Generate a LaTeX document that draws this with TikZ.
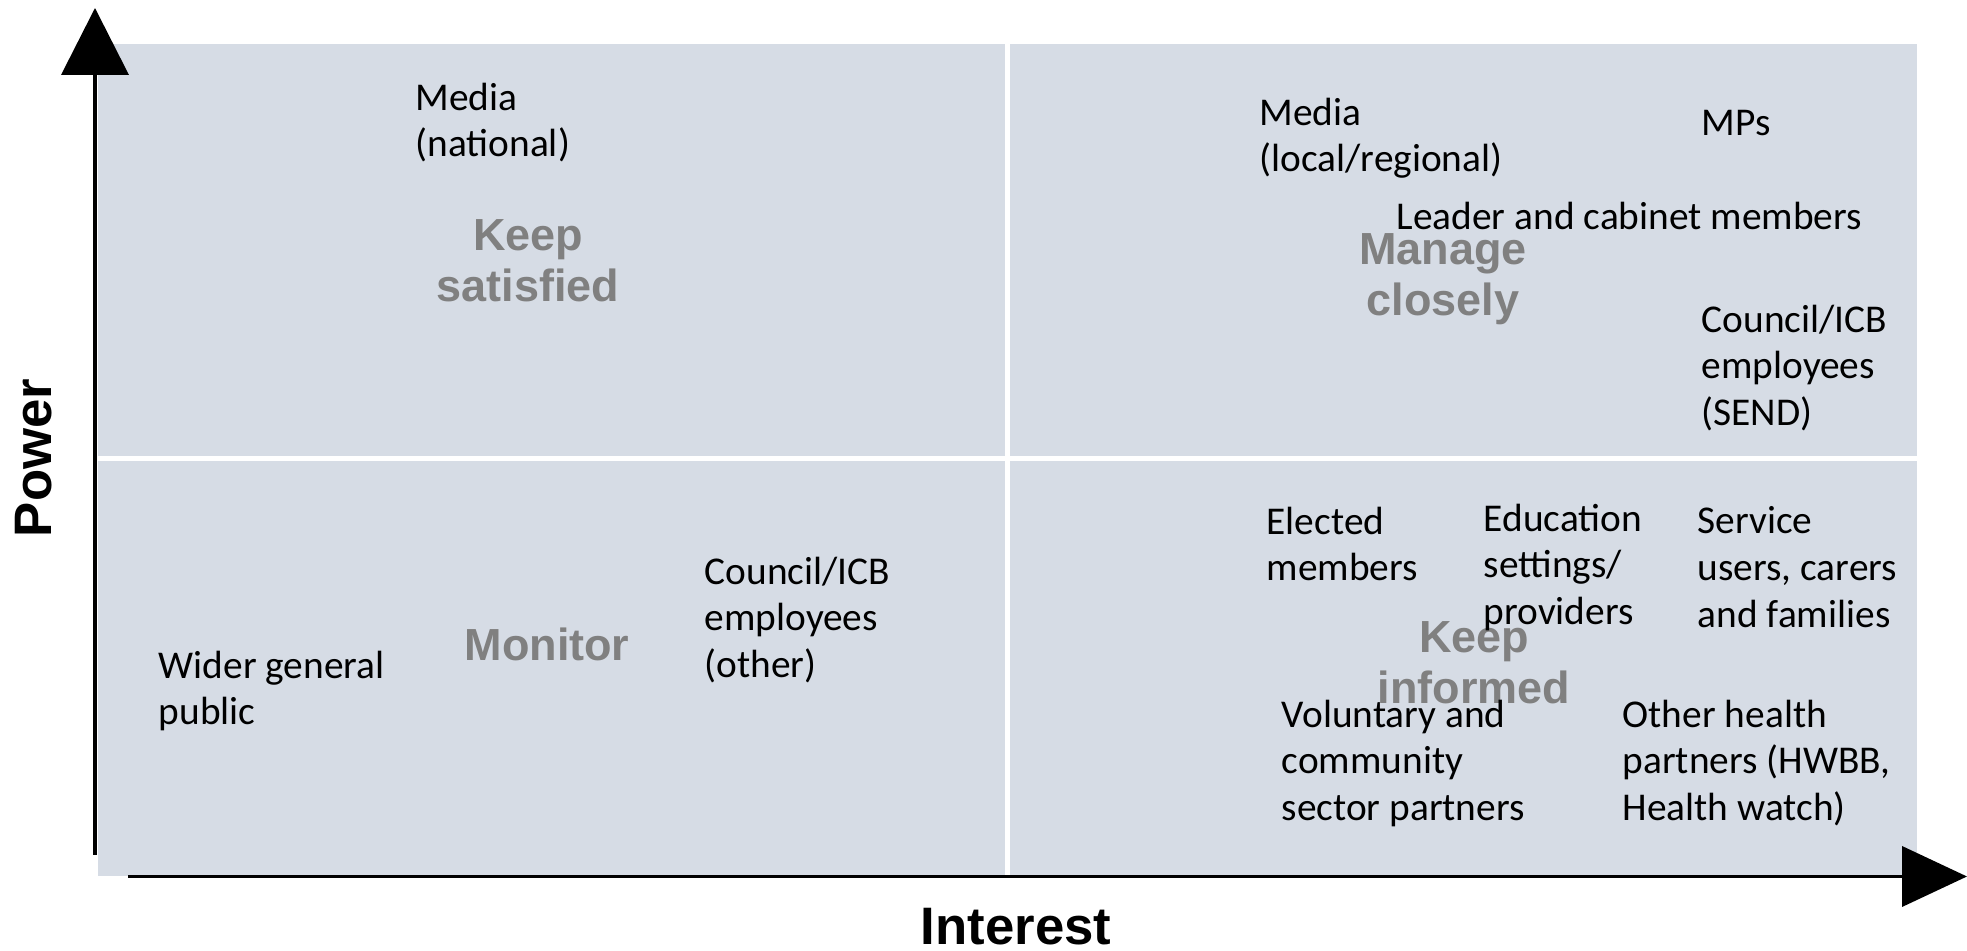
\documentclass[tikz,border=0pt]{standalone}
\usepackage{fontspec}
\setmainfont{Carlito}
\newfontfamily\headfont{Liberation Sans}
\usetikzlibrary{arrows.meta}
\definecolor{quadfill}{HTML}{D6DCE5}
\definecolor{zonegray}{HTML}{808080}

\begin{document}
\begin{tikzpicture}[
    quad/.style={fill=quadfill,draw=none},
    stake/.style={anchor=north west,align=left,inner sep=0pt,font=\fontsize{11.2}{13.3}\selectfont},
    zone/.style={align=center,inner sep=0pt,text=zonegray,font=\headfont\bfseries\fontsize{12.8}{14.6}\selectfont},
    axislabel/.style={inner sep=0pt,font=\headfont\bfseries\fontsize{15}{18}\selectfont},
    axisline/.style={line width=1.1pt}
  ]
    \useasboundingbox (0,0) rectangle (19.67,9.51);
    % quadrants
    \fill[quad] (0.98,4.945) rectangle (10.045,9.07);
    \fill[quad] (10.095,4.945) rectangle (19.17,9.07);
    \fill[quad] (0.98,0.75) rectangle (10.045,4.895);
    \fill[quad] (10.095,0.75) rectangle (19.17,4.895);
    % axes
    \coordinate (ybot) at (0.95,0.96);
    \coordinate (ytop) at (0.95,9.43);
    \coordinate (xleft) at (1.28,0.745);
    \coordinate (xright) at (19.67,0.745);
    \draw[axisline,-{Triangle[width=6.7mm,length=6.7mm]}] (ybot) -- (ytop);
    \draw[axisline,-{Triangle[width=6mm,length=6.5mm]}] (xleft) -- (xright);
    \node[axislabel,rotate=90] (power) at (0.34,4.93) {Power};
    \node[axislabel] (interest) at (10.16,0.24) {Interest};
    % zone names
    \node[zone] (satisfied) at (5.28,6.905) {Keep\\satisfied};
    \node[zone] (closely) at (14.43,6.72) {Manage\\closely};
    \node[zone] (monitor) at (5.47,3.07) {Monitor};
    \node[zone] (informed) at (14.74,2.88) {Keep\\informed};
    % stakeholders
    \node[stake] (medianat) at (4.15,8.69) {Media\\(national)};
    \node[stake] (medialoc) at (12.59,8.54) {Media\\(local/regional)};
    \node[stake] (mps) at (17.01,8.41) {MPs};
    \node[stake] (leader) at (13.96,7.50) {Leader and cabinet members};
    \node[stake] (send) at (17.01,6.47) {Council/ICB\\employees\\(SEND)};
    \node[stake] (public) at (1.58,3.01) {Wider general\\public};
    \node[stake] (other) at (7.04,3.95) {Council/ICB\\employees\\(other)};
    \node[stake] (elected) at (12.66,4.45) {Elected\\members};
    \node[stake] (education) at (14.83,4.48) {Education\\settings/\\providers};
    \node[stake] (service) at (16.97,4.45) {Service\\users, carers\\and families};
    \node[stake] (voluntary) at (12.81,2.52) {Voluntary and\\community\\sector partners};
    \node[stake] (health) at (16.22,2.52) {Other health\\partners (HWBB,\\Health watch)};
\end{tikzpicture}
\end{document}
